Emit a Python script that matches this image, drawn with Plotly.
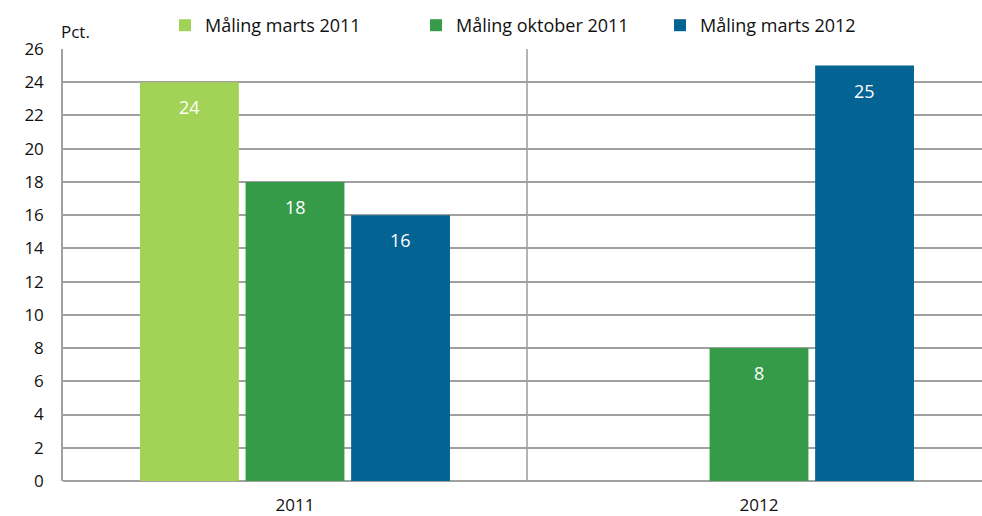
import plotly.graph_objects as go

categories = ["2011", "2012"]
series_names = ["Måling marts 2011", "Måling oktober 2011", "Måling marts 2012"]
values_marts_2011 = [24, None]
values_oktober_2011 = [18, 8]
values_marts_2012 = [16, 25]
colors = ["#A3D356", "#369B49", "#036393"]
y_ticks = list(range(0, 27, 2))

all_values = [values_marts_2011, values_oktober_2011, values_marts_2012]

FONT = "Open Sans, Liberation Sans, sans-serif"
slot = 0.2275
bar_w = 0.213
xpos = list(range(len(categories)))

fig = go.Figure()
annotations = []
for i, (name, vals, col) in enumerate(zip(series_names, all_values, colors)):
    off = -1.5 * slot + i * slot + (slot - bar_w) / 2
    fig.add_trace(go.Bar(
        x=xpos, y=vals, name=name, marker=dict(color=col, line=dict(width=0)),
        width=bar_w, offset=off, legend="legend" if i == 0 else f"legend{i+1}",
        hoverinfo="skip",
    ))
    for xi, v in zip(xpos, vals):
        if v is None:
            continue
        annotations.append(dict(
            x=xi + off + bar_w / 2, y=v, xref="x", yref="y", text=str(v),
            showarrow=False, yanchor="middle", yshift=-25,
            font=dict(family=FONT, size=18, color="white"),
        ))

annotations.append(dict(
    x=0, y=1, xref="paper", yref="paper", text="Pct.", showarrow=False,
    xanchor="left", yanchor="bottom", xshift=-4, yshift=4,
    font=dict(family=FONT, size=17, color="#111111"),
))

plot_left, plot_right, plot_top, plot_bottom = 63, 982, 49, 481
pw = plot_right - plot_left
ph = plot_bottom - plot_top
legend_px = [165, 416, 660]
legend_cfg = {}
for i, px in enumerate(legend_px):
    key = "legend" if i == 0 else f"legend{i+1}"
    legend_cfg[key] = dict(
        x=(px - plot_left) / pw, y=1.0 + 5 / ph, xref="paper", yref="paper",
        xanchor="left", yanchor="bottom", orientation="h",
        font=dict(family=FONT, size=18, color="#111111"),
        bgcolor="rgba(0,0,0,0)", borderwidth=0, itemwidth=30,
    )

fig.update_layout(
    width=982, height=516,
    margin=dict(l=plot_left, r=982 - plot_right, t=plot_top, b=516 - plot_bottom,
                autoexpand=False),
    plot_bgcolor="white", paper_bgcolor="white",
    showlegend=True,
    annotations=annotations,
    shapes=[dict(type="line", xref="x", yref="paper", x0=0.5, x1=0.5, y0=0, y1=1,
                 line=dict(color="#9a9a9a", width=1.5), layer="below")],
    xaxis=dict(
        range=[-0.5, -0.5 + pw / 464], tickvals=xpos, ticktext=categories,
        showgrid=False, zeroline=False, showline=False, ticks="",
        tickfont=dict(family=FONT, size=17, color="#111111"),
        ticklabelstandoff=12, automargin=False,
    ),
    yaxis=dict(
        range=[0, 26], tickvals=y_ticks, showgrid=True, gridcolor="#a0a0a0",
        gridwidth=1.5, zeroline=True, zerolinecolor="#a0a0a0", zerolinewidth=2,
        showline=True, linecolor="#a0a0a0", linewidth=1.5, ticks="",
        tickfont=dict(family=FONT, size=17, color="#111111"),
        ticklabelstandoff=14, automargin=False,
    ),
    **legend_cfg,
)

fig.write_html(
    "out.html",
    config={"displayModeBar": False},
    post_script="document.body.style.margin='0';document.body.style.overflow='hidden';",
)
